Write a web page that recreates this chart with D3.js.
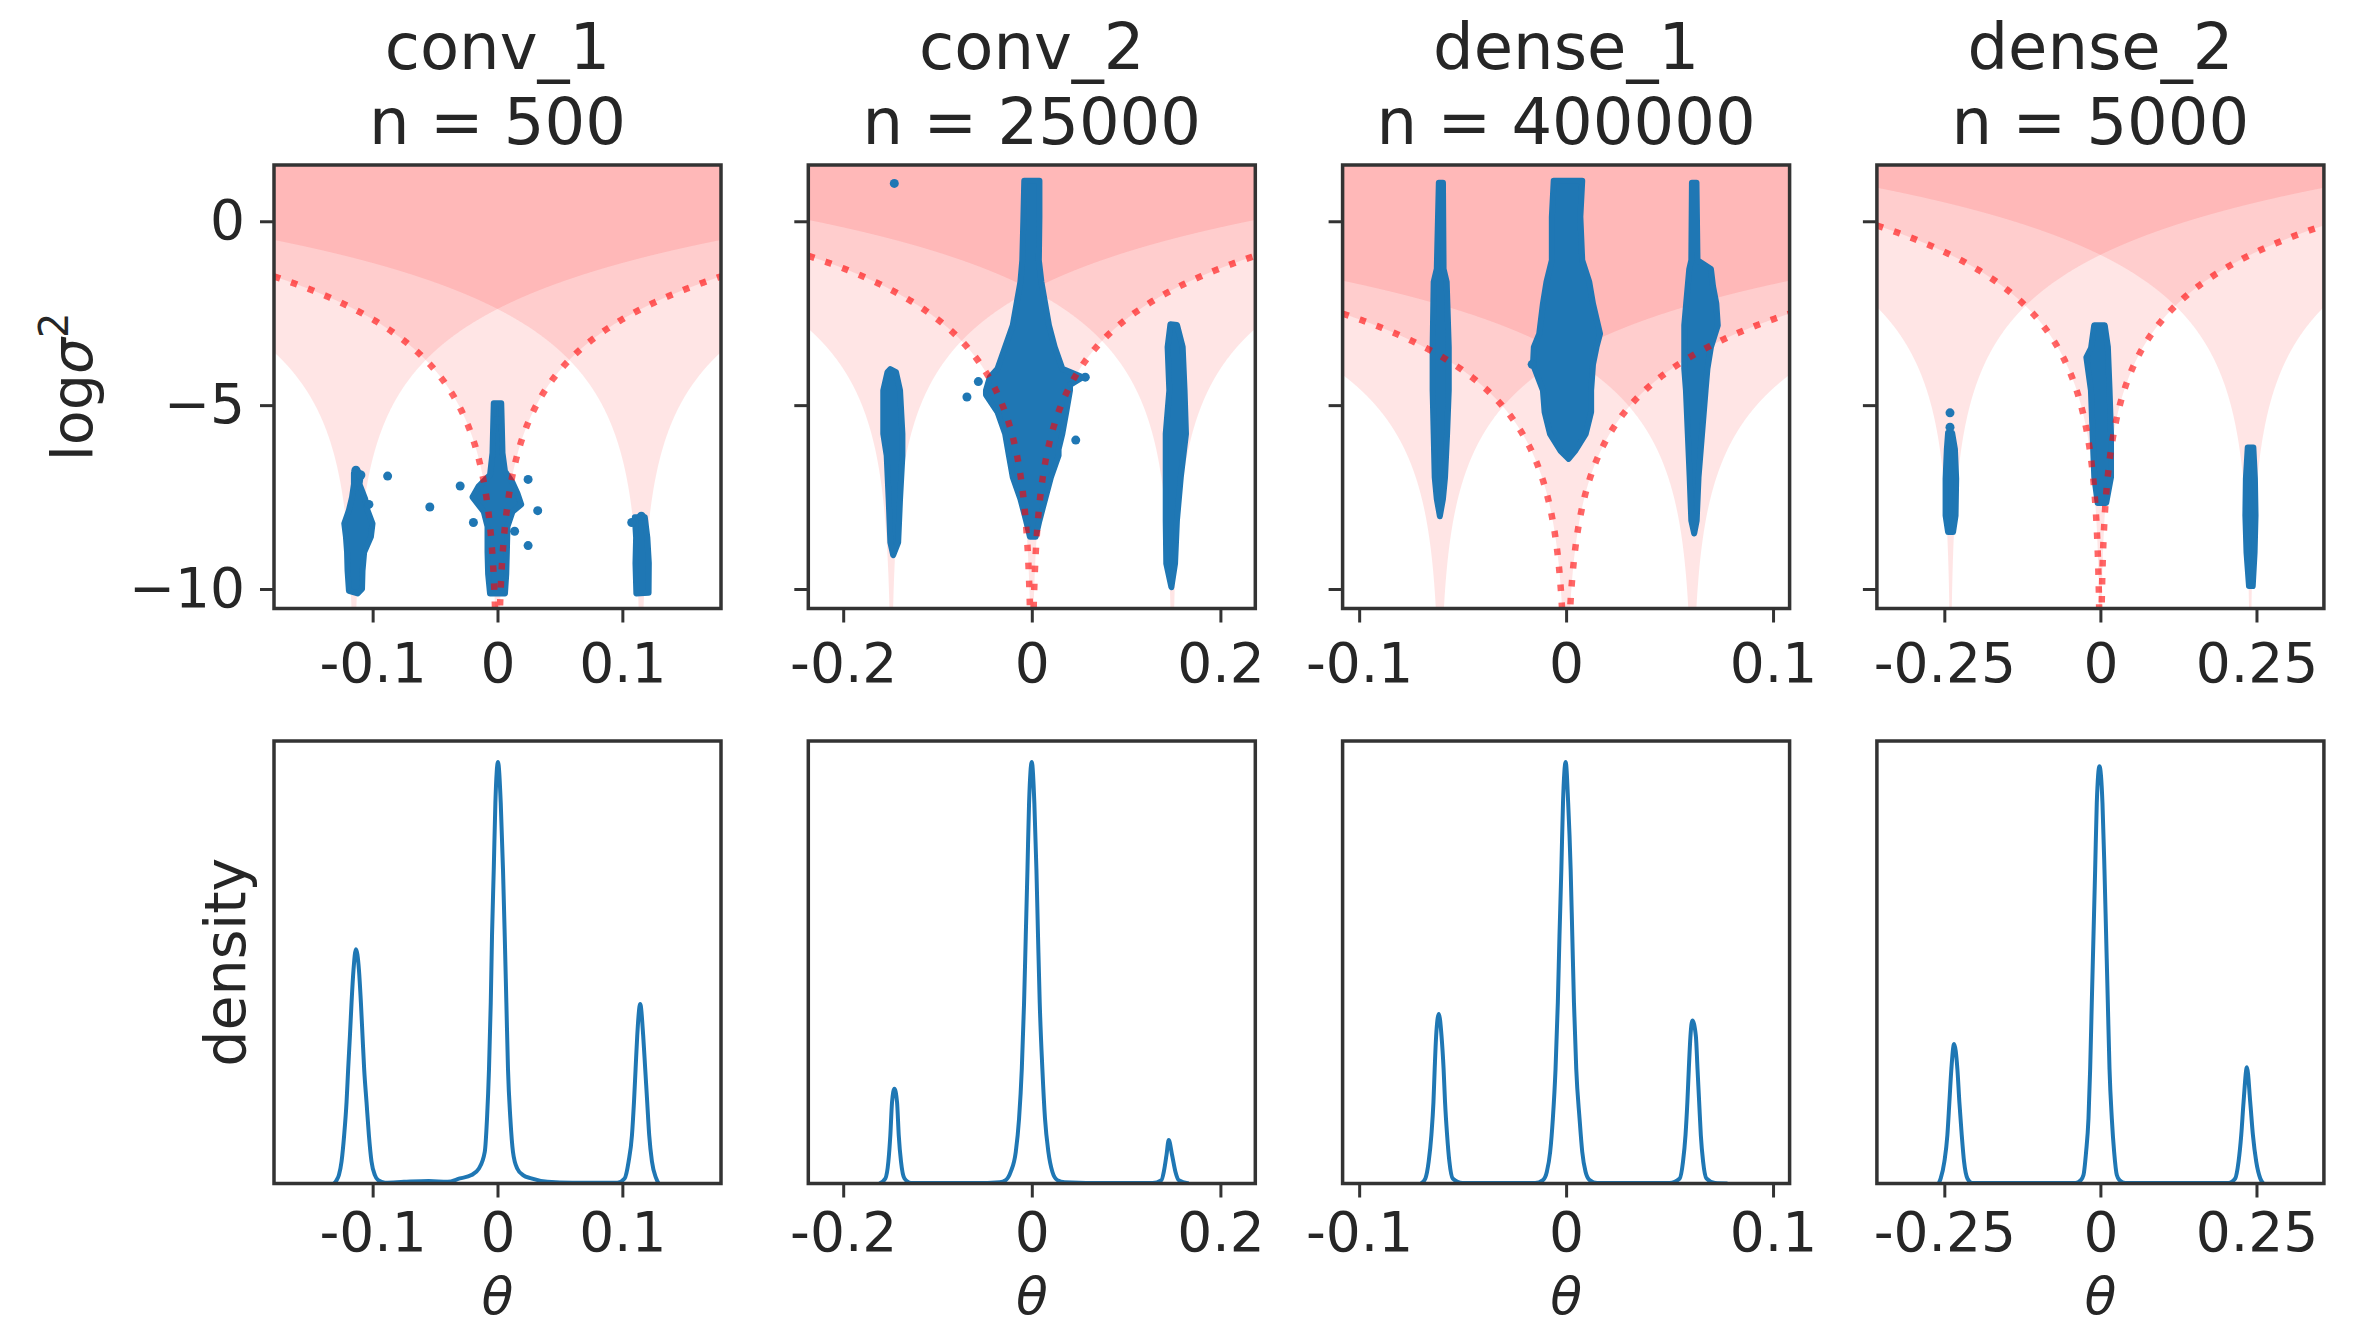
<!DOCTYPE html>
<html lang="en">
<head>
<meta charset="UTF-8">
<title>Weight variance and density per layer</title>
<script src="https://d3js.org/d3.v7.min.js"></script>
<style>
  body { margin: 0; background: #fff; }
  svg { display: block; font-family: "DejaVu Sans", sans-serif; }
  .tick text { fill: #262626; font-size: 55px; font-family: "DejaVu Sans", sans-serif; }
  .tick line { stroke: #333; stroke-width: 3; }
</style>
</head>
<body>
<svg id="chart" width="2372" height="1327"></svg>
<script>
// layers shown as columns
const layers = ["conv_1", "conv_2", "dense_1", "dense_2"];
const counts = [500, 25000, 400000, 5000];

// axis ranges and ticks
const thetaLimits = [0.179, 0.237, 0.108, 0.358];
const xTicks = [[-0.1, 0, 0.1], [-0.2, 0, 0.2], [-0.1, 0, 0.1], [-0.25, 0, 0.25]];
const xTickLabels = [["-0.1", "0", "0.1"], ["-0.2", "0", "0.2"], ["-0.1", "0", "0.1"], ["-0.25", "0", "0.25"]];
const yLimits = [-10.53, 1.53];
const yTicks = [0, -5, -10];
const yTickLabels = ["0", "\u22125", "\u221210"];

const modeSpacing = [0.115, 0.149, 0.061, 0.24];
const priorOffset = 1.94;

// outlines of the dense point clouds [theta, log sigma^2]
const clouds = [
  [
    [[-0.1134,-6.75],[-0.1094,-6.88],[-0.1105,-7.15],[-0.1060,-7.55],[-0.1041,-7.86],[-0.1001,-8.22],[-0.1014,-8.58],[-0.1068,-9.0],[-0.1081,-9.5],[-0.1085,-10.0],[-0.1120,-10.12],[-0.1190,-10.05],[-0.1201,-9.5],[-0.1205,-9.0],[-0.1214,-8.58],[-0.1227,-8.22],[-0.1190,-7.86],[-0.1165,-7.5],[-0.1150,-7.15],[-0.1150,-6.85]],
    [[-0.0030,-4.95],[0.0030,-4.95],[0.0035,-5.6],[0.0040,-6.3],[0.0060,-6.8],[0.0120,-7.1],[0.0160,-7.4],[0.0190,-7.7],[0.0120,-7.9],[0.0080,-8.3],[0.0075,-9.0],[0.0070,-9.6],[0.0060,-10.12],[-0.0060,-10.12],[-0.0075,-9.6],[-0.0080,-9.0],[-0.0080,-8.3],[-0.0110,-7.9],[-0.0200,-7.5],[-0.0150,-7.2],[-0.0060,-6.9],[-0.0040,-6.3],[-0.0035,-5.6]],
    [[0.1100,-8.05],[0.1180,-8.05],[0.1200,-8.6],[0.1212,-9.3],[0.1210,-10.1],[0.1112,-10.12],[0.1105,-9.3],[0.1110,-8.6]]
  ],
  [
    [[-0.1500,-4.02],[-0.1440,-4.1],[-0.1397,-4.6],[-0.1372,-5.78],[-0.1372,-6.37],[-0.1397,-7.55],[-0.1417,-8.73],[-0.1470,-9.08],[-0.1500,-8.73],[-0.1518,-7.55],[-0.1539,-6.37],[-0.1575,-5.78],[-0.1575,-4.6],[-0.1530,-4.1]],
    [[-0.0080,1.10],[0.0081,1.10],[0.0081,0.12],[0.0075,-1.06],[0.0102,-1.65],[0.0142,-2.24],[0.0182,-2.83],[0.0243,-3.42],[0.0324,-4.01],[0.0540,-4.24],[0.0405,-4.45],[0.0405,-4.60],[0.0365,-5.19],[0.0324,-5.78],[0.0284,-6.2],[0.0284,-6.37],[0.0203,-6.96],[0.0142,-7.55],[0.0081,-8.14],[0.0041,-8.58],[-0.0020,-8.58],[-0.0061,-8.14],[-0.0121,-7.55],[-0.0202,-6.96],[-0.0243,-6.37],[-0.0283,-5.78],[-0.0364,-5.19],[-0.0486,-4.72],[-0.0486,-4.60],[-0.0445,-4.24],[-0.0364,-4.01],[-0.0283,-3.42],[-0.0202,-2.83],[-0.0162,-2.24],[-0.0121,-1.65],[-0.0101,-1.06],[-0.0089,0.12]],
    [[0.1470,-2.80],[0.1540,-2.82],[0.1600,-3.42],[0.1620,-4.6],[0.1635,-5.78],[0.1580,-6.96],[0.1539,-8.14],[0.1519,-9.31],[0.1480,-9.95],[0.1426,-9.31],[0.1420,-8.14],[0.1420,-6.96],[0.1420,-5.78],[0.1458,-4.6],[0.1440,-3.42]]
  ],
  [
    [[-0.0615,1.05],[-0.0595,1.05],[-0.0592,-1.3],[-0.0577,-1.65],[-0.0567,-3.42],[-0.0567,-4.6],[-0.0575,-5.78],[-0.0585,-6.96],[-0.0595,-7.55],[-0.0610,-8.02],[-0.0625,-7.55],[-0.0635,-6.96],[-0.0640,-5.78],[-0.0645,-4.6],[-0.0645,-3.42],[-0.0640,-1.65],[-0.0625,-1.3]],
    [[-0.0060,1.10],[0.0078,1.10],[0.0069,0.12],[0.0078,-1.06],[0.0112,-1.65],[0.0130,-2.24],[0.0164,-3.06],[0.0147,-3.42],[0.0130,-3.89],[0.0121,-4.60],[0.0121,-5.19],[0.0095,-5.78],[0.0043,-6.25],[0.0012,-6.46],[-0.0026,-6.25],[-0.0078,-5.78],[-0.0104,-5.19],[-0.0112,-4.60],[-0.0160,-3.89],[-0.0156,-3.42],[-0.0130,-3.06],[-0.0112,-2.24],[-0.0095,-1.65],[-0.0069,-1.06],[-0.0069,0.12]],
    [[0.0608,1.05],[0.0630,1.05],[0.0635,-1.06],[0.0700,-1.30],[0.0710,-1.77],[0.0726,-2.24],[0.0733,-2.83],[0.0700,-3.42],[0.0683,-4.01],[0.0674,-4.60],[0.0657,-5.78],[0.0640,-6.96],[0.0631,-8.14],[0.0619,-8.49],[0.0605,-8.14],[0.0597,-6.96],[0.0588,-5.78],[0.0579,-4.60],[0.0571,-4.01],[0.0571,-3.42],[0.0571,-2.83],[0.0580,-2.24],[0.0595,-1.30],[0.0605,-1.06]]
  ],
  [
    [[-0.2440,-5.75],[-0.2375,-5.75],[-0.2330,-6.2],[-0.2310,-7.0],[-0.2320,-8.0],[-0.2360,-8.45],[-0.2440,-8.45],[-0.2480,-8.0],[-0.2480,-7.0],[-0.2460,-6.2]],
    [[-0.0100,-2.83],[0.0070,-2.83],[0.0120,-3.42],[0.0147,-4.60],[0.0170,-5.78],[0.0170,-6.96],[0.0093,-7.66],[-0.0044,-7.66],[-0.0098,-6.96],[-0.0125,-5.78],[-0.0152,-4.60],[-0.0225,-3.70],[-0.0150,-3.45]],
    [[0.2360,-6.15],[0.2450,-6.15],[0.2475,-7.0],[0.2485,-8.0],[0.2470,-9.0],[0.2440,-9.92],[0.2380,-9.92],[0.2340,-9.0],[0.2322,-8.0],[0.2330,-7.0]]
  ]
];

// separate points outside the clouds
const loosePoints = [
  [[-0.0880,-6.93],[-0.0542,-7.77],[-0.0299,-7.20],[-0.0193,-8.19],[0.0245,-7.02],[0.0322,-7.87],[0.0245,-8.82],[0.0137,-8.43],[-0.1134,-6.77],[-0.1094,-6.90],[0.1075,-8.19],[0.1152,-8.02],[0.0000,-5.42],[-0.1030,-7.70]],
  [[-0.1458,1.03],[-0.0688,-4.78],[-0.0567,-4.36],[0.0466,-5.95],[0.0567,-4.24]],
  [[-0.0164,-3.89]],
  [[-0.2409,-5.21],[-0.2409,-5.60]]
];

// density curves [theta, density / peak]
const densities = [
  [[-0.131,0],[-0.1289,0.008],[-0.1270,0.020],[-0.1249,0.052],[-0.1228,0.115],[-0.1209,0.193],[-0.1196,0.272],[-0.1182,0.35],[-0.1169,0.429],[-0.1153,0.508],[-0.1134,0.556],[-0.1110,0.508],[-0.1094,0.429],[-0.1081,0.35],[-0.1068,0.272],[-0.1049,0.193],[-0.1030,0.115],[-0.1009,0.052],[-0.0982,0.020],[-0.0956,0.008],[-0.090,0.002],[-0.075,0.004],[-0.055,0.006],[-0.040,0.004],[-0.0302,0.012],[-0.0209,0.020],[-0.0150,0.035],[-0.0102,0.075],[-0.0084,0.154],[-0.0068,0.272],[-0.0054,0.429],[-0.0044,0.587],[-0.0030,0.745],[-0.0017,0.903],[0.0004,1.0],[0.0026,0.903],[0.0044,0.745],[0.0058,0.587],[0.0071,0.429],[0.0084,0.272],[0.0103,0.154],[0.0124,0.075],[0.0159,0.035],[0.0204,0.020],[0.0271,0.012],[0.040,0.004],[0.060,0.002],[0.096,0.002],[0.1018,0.012],[0.1050,0.052],[0.1077,0.115],[0.1093,0.193],[0.1106,0.272],[0.1119,0.35],[0.1143,0.426],[0.1167,0.35],[0.1183,0.272],[0.1199,0.193],[0.1215,0.115],[0.1237,0.052],[0.1271,0.012],[0.129,0]],
  [[-0.1616,0],[-0.1553,0.012],[-0.1521,0.052],[-0.1500,0.115],[-0.1482,0.193],[-0.1457,0.225],[-0.1429,0.193],[-0.1411,0.115],[-0.1387,0.052],[-0.1351,0.012],[-0.128,0.001],[-0.060,0.001],[-0.0340,0.003],[-0.0276,0.008],[-0.0223,0.028],[-0.0170,0.075],[-0.0135,0.154],[-0.0106,0.272],[-0.0082,0.429],[-0.0064,0.587],[-0.0046,0.745],[-0.0029,0.903],[0.0,1.0],[0.0027,0.903],[0.0049,0.745],[0.0066,0.587],[0.0084,0.429],[0.0112,0.272],[0.0140,0.154],[0.0176,0.075],[0.0218,0.028],[0.0271,0.008],[0.035,0.003],[0.080,0.001],[0.128,0.001],[0.1375,0.008],[0.1400,0.028],[0.1428,0.067],[0.1452,0.103],[0.1488,0.067],[0.1523,0.028],[0.1558,0.008],[0.1664,0]],
  [[-0.0701,0],[-0.0680,0.012],[-0.0664,0.052],[-0.0651,0.115],[-0.0641,0.193],[-0.0635,0.272],[-0.0628,0.35],[-0.0615,0.402],[-0.0602,0.35],[-0.0592,0.272],[-0.0585,0.193],[-0.0575,0.115],[-0.0564,0.052],[-0.0548,0.012],[-0.050,0.001],[-0.015,0.001],[-0.0112,0.008],[-0.0093,0.028],[-0.0077,0.075],[-0.0064,0.154],[-0.0051,0.272],[-0.0040,0.429],[-0.0032,0.587],[-0.0023,0.745],[-0.0015,0.903],[-0.0002,1.0],[0.0010,0.903],[0.0022,0.745],[0.0030,0.587],[0.0038,0.429],[0.0049,0.272],[0.0065,0.154],[0.0078,0.075],[0.0094,0.028],[0.0114,0.008],[0.015,0.001],[0.050,0.001],[0.0549,0.012],[0.0565,0.052],[0.0577,0.115],[0.0586,0.193],[0.0593,0.272],[0.0601,0.35],[0.0610,0.387],[0.0627,0.35],[0.0635,0.272],[0.0643,0.193],[0.0651,0.115],[0.0662,0.052],[0.0678,0.012],[0.072,0.001],[0.078,0]],
  [[-0.259,0],[-0.2558,0.012],[-0.2499,0.052],[-0.2451,0.115],[-0.2419,0.193],[-0.2387,0.272],[-0.2344,0.331],[-0.2291,0.272],[-0.2259,0.193],[-0.2221,0.115],[-0.2184,0.052],[-0.2130,0.012],[-0.205,0.001],[-0.040,0.001],[-0.0314,0.008],[-0.0271,0.020],[-0.0229,0.075],[-0.0191,0.154],[-0.0164,0.272],[-0.0138,0.429],[-0.0111,0.587],[-0.0084,0.745],[-0.0058,0.903],[-0.0015,0.99],[0.0033,0.903],[0.0065,0.745],[0.0092,0.587],[0.0119,0.429],[0.0146,0.272],[0.0183,0.154],[0.0220,0.075],[0.0263,0.020],[0.0306,0.008],[0.040,0.001],[0.205,0.001],[0.2159,0.012],[0.2213,0.052],[0.2256,0.115],[0.2293,0.193],[0.2347,0.276],[0.2400,0.193],[0.2443,0.115],[0.2496,0.052],[0.2561,0.012],[0.261,0]]
];

const blue = "#1f77b4";
const svg = d3.select("#chart");

const panelW = 447, colStep = 534.3, left0 = 274;
const topY = 165, topH = 443.5;
const botY = 741, botH = 442.5;

function frame(g, w, h) {
  g.append("rect")
    .attr("width", w).attr("height", h)
    .attr("fill", "none").attr("stroke", "#333").attr("stroke-width", 3.5);
}

function styleXAxis(g, offset) {
  g.select(".domain").remove();
  g.selectAll(".tick text").attr("y", offset).attr("dy", null);
}

layers.forEach((name, i) => {
  const x0 = left0 + i * colStep;
  const x = d3.scaleLinear().domain([-thetaLimits[i], thetaLimits[i]]).range([0, panelW]);
  const y = d3.scaleLinear().domain(yLimits).range([topH, 0]);
  const yd = d3.scaleLinear().domain([0, 1.05]).range([botH, 0]);

  // titles
  svg.append("text").attr("x", x0 + panelW / 2).attr("y", 69)
    .attr("text-anchor", "middle").attr("font-size", 64).attr("fill", "#262626").text(name);
  svg.append("text").attr("x", x0 + panelW / 2).attr("y", 144)
    .attr("text-anchor", "middle").attr("font-size", 64).attr("fill", "#262626").text(`n = ${counts[i]}`);

  // ---- top panel
  const gt = svg.append("g").attr("transform", `translate(${x0},${topY})`);
  gt.append("clipPath").attr("id", `clipT${i}`)
    .append("rect").attr("width", panelW).attr("height", topH);
  const plot = gt.append("g").attr("clip-path", `url(#clipT${i})`);

  const m = modeSpacing[i];
  const centres = [-m, 0, m];
  const grid = d3.range(0, 1201).map(k => -thetaLimits[i] + (2 * thetaLimits[i]) * k / 1200);
  const bound = (t, mu) => {
    const d = Math.abs(t - mu);
    return d < 1e-9 ? yLimits[0] - 5 : Math.max(2 * Math.log(d) + priorOffset, yLimits[0] - 5);
  };

  centres.forEach(mu => {
    const pts = grid.concat([mu]).sort((a, b) => a - b);
    plot.append("path")
      .datum(pts)
      .attr("fill", "red").attr("fill-opacity", 0.1)
      .attr("d", d3.area().x(t => x(t)).y0(-10).y1(t => y(bound(t, mu))));
  });

  // scatter clouds
  const cloudLine = d3.line().x(p => x(p[0])).y(p => y(p[1])).curve(d3.curveLinearClosed);
  plot.selectAll("path.cloud").data(clouds[i]).enter().append("path")
    .attr("class", "cloud")
    .attr("d", cloudLine)
    .attr("fill", blue).attr("stroke", blue)
    .attr("stroke-width", 6).attr("stroke-linejoin", "round");
  plot.selectAll("circle.pt").data(loosePoints[i]).enter().append("circle")
    .attr("class", "pt")
    .attr("cx", p => x(p[0])).attr("cy", p => y(p[1])).attr("r", 4.5)
    .attr("fill", blue);

  // dotted bound of the zero mode
  const dotPts = grid.concat([0]).sort((a, b) => a - b);
  plot.append("path")
    .datum(dotPts)
    .attr("fill", "none").attr("stroke", "red").attr("stroke-opacity", 0.6)
    .attr("stroke-width", 6.5).attr("stroke-dasharray", "6.5 11.5")
    .attr("d", d3.line().x(t => x(t)).y(t => y(bound(t, 0))));

  frame(gt, panelW, topH);

  const xa = gt.append("g").attr("transform", `translate(0,${topH})`)
    .call(d3.axisBottom(x).tickValues(xTicks[i]).tickFormat((d, k) => xTickLabels[i][k]).tickSize(14));
  styleXAxis(xa, 73);

  const ya = gt.append("g")
    .call(d3.axisLeft(y).tickValues(yTicks).tickFormat((d, k) => i === 0 ? yTickLabels[k] : "").tickSize(14).tickPadding(15));
  ya.select(".domain").remove();

  // ---- bottom panel
  const gb = svg.append("g").attr("transform", `translate(${x0},${botY})`);
  gb.append("clipPath").attr("id", `clipB${i}`)
    .append("rect").attr("width", panelW).attr("height", botH);
  gb.append("g").attr("clip-path", `url(#clipB${i})`)
    .append("path")
    .datum(densities[i])
    .attr("fill", "none").attr("stroke", blue).attr("stroke-width", 4)
    .attr("stroke-linejoin", "round")
    .attr("d", d3.line().x(p => x(p[0])).y(p => yd(p[1])).curve(d3.curveMonotoneX));

  frame(gb, panelW, botH);

  const xb = gb.append("g").attr("transform", `translate(0,${botH})`)
    .call(d3.axisBottom(x).tickValues(xTicks[i]).tickFormat((d, k) => xTickLabels[i][k]).tickSize(14));
  styleXAxis(xb, 67.5);

  svg.append("text").attr("x", x0 + panelW / 2).attr("y", 1314)
    .attr("text-anchor", "middle").attr("font-size", 52).attr("font-style", "italic")
    .attr("fill", "#262626").text("\u03b8");
});

// y labels
const yl = svg.append("text")
  .attr("transform", `translate(92,${topY + topH / 2}) rotate(-90)`)
  .attr("text-anchor", "middle").attr("font-size", 57).attr("fill", "#262626");
yl.append("tspan").text("log");
yl.append("tspan").attr("font-style", "italic").text("\u03c3");
yl.append("tspan").attr("font-size", 40).attr("dy", -24).text("2");

svg.append("text")
  .attr("transform", `translate(245,${botY + botH / 2}) rotate(-90)`)
  .attr("text-anchor", "middle").attr("font-size", 57).attr("fill", "#262626")
  .text("density");
</script>
</body>
</html>
